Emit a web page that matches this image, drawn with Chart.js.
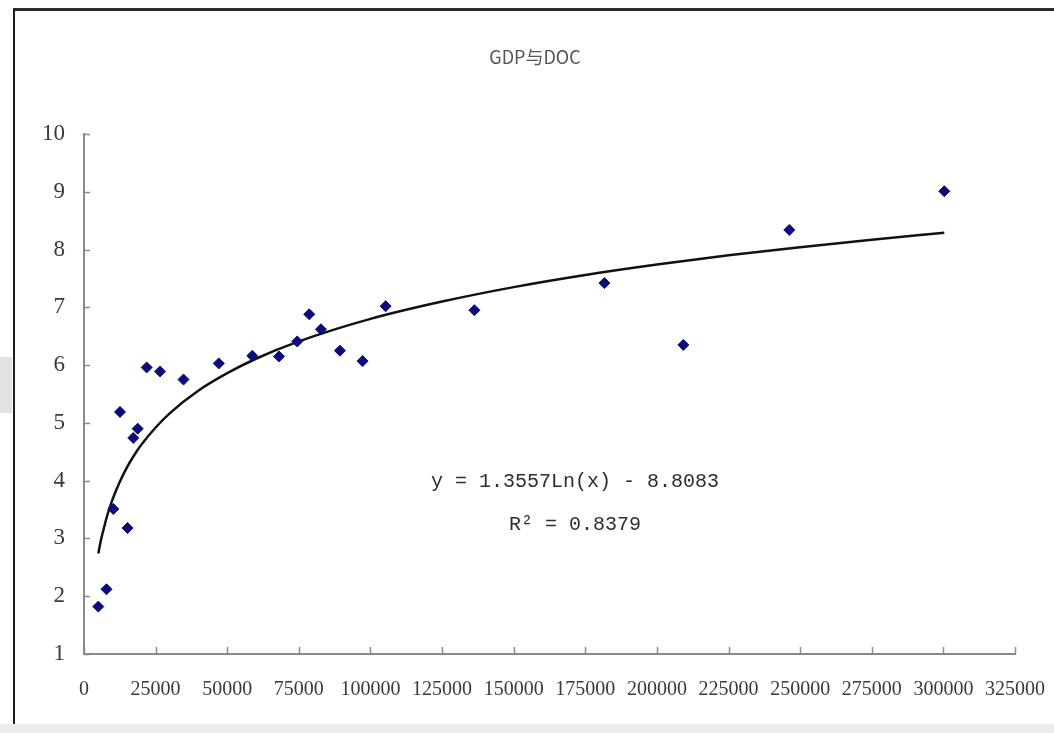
<!DOCTYPE html>
<html>
<head>
<meta charset="utf-8">
<script src="https://cdn.jsdelivr.net/npm/chart.js@4/dist/chart.umd.min.js"></script>
<style>
  body { margin: 0; background: #fff; }
  #wrap { position: relative; width: 1054px; height: 733px; overflow: hidden; }
  .frame { position: absolute; left: 13px; top: 8px; width: 1045px; height: 715px;
           border-top: 3px solid #2b2b2b; border-left: 2px solid #1e1e1e; background: #fff; }
  .strip { position: absolute; left: 0; top: 724px; width: 1054px; height: 9px; background: #ececec; }
  .patch { position: absolute; left: 0; top: 357px; width: 12px; height: 56px; background: #e2e2e2; }
  canvas { position: absolute; left: 0; top: 0; }
</style>
</head>
<body>
<div id="wrap">
  <div class="frame"></div>
  <div class="strip"></div>
  <div class="patch"></div>
  <canvas id="chart" width="1054" height="733"></canvas>
</div>
<script>
var TITLE = 'GDP与DOC';

// GDP (x) and DOC (y).
var gdp = [5000, 7850, 10230, 12570, 15180, 17200, 18740, 21880, 26530, 34730,
  47050, 58740, 68060, 74440, 78630, 82710, 89340, 97260, 105290,
  136280, 181660, 209220, 246210, 300310];
var doc = [1.82, 2.12, 3.51, 5.19, 3.18, 4.74, 4.90, 5.96, 5.89, 5.75,
  6.03, 6.16, 6.15, 6.41, 6.88, 6.62, 6.25, 6.07, 7.02,
  6.95, 7.42, 6.35, 8.34, 9.01];

// Logarithmic trend line.
var trendX = [5000, 6000, 7000, 8000, 10000, 12500, 15000, 17500, 20000, 25000,
  30000, 40000, 50000, 60000, 75000, 100000, 125000, 150000, 175000,
  200000, 225000, 250000, 275000, 300300];
var trendY = [2.74, 2.99, 3.19, 3.38, 3.68, 3.98, 4.23, 4.44, 4.62, 4.92,
  5.17, 5.56, 5.86, 6.11, 6.41, 6.80, 7.10, 7.35, 7.56,
  7.74, 7.90, 8.04, 8.17, 8.29];

var equationLines = ['y = 1.3557Ln(x) - 8.8083', 'R\u00b2 = 0.8379'];

var xTicks = [0, 325000, 25000];   // min, max, step
var yTicks = [1, 10, 1];

function toPoints(xs, ys) {
  var pts = [];
  for (var i = 0; i < xs.length; i++) {
    pts.push({x: xs[i], y: ys[i]});
  }
  return pts;
}

var AXIS_COLOR = '#8a8a8a';
var TEXT_COLOR = '#3a3a3a';

// Excel-style tick marks pointing into the plot.
var innerTicks = {
  id: 'innerTicks',
  afterDatasetsDraw: function(chart) {
    var ctx = chart.ctx;
    var xs = chart.scales.x, ys = chart.scales.y;
    var area = chart.chartArea;
    ctx.save();
    ctx.strokeStyle = AXIS_COLOR;
    ctx.lineWidth = 1.5;
    ctx.beginPath();
    xs.ticks.forEach(function(t) {
      var px = Math.round(xs.getPixelForValue(t.value)) + 0.5;
      ctx.moveTo(px, area.bottom);
      ctx.lineTo(px, area.bottom - 7);
    });
    ys.ticks.forEach(function(t) {
      var py = Math.round(ys.getPixelForValue(t.value)) + 0.5;
      ctx.moveTo(area.left, py);
      ctx.lineTo(area.left + 6, py);
    });
    ctx.stroke();
    ctx.restore();
  }
};

// Title sits a little right of the canvas centre, as in the source sheet.
var titleAndEquation = {
  id: 'titleAndEquation',
  afterDraw: function(chart) {
    var ctx = chart.ctx;
    ctx.save();
    ctx.textAlign = 'center';
    ctx.textBaseline = 'middle';
    ctx.font = '18px "Noto Sans CJK SC", sans-serif';
    ctx.fillStyle = '#555';
    ctx.fillText(TITLE, 535, 57);

    var px = chart.scales.x.getPixelForValue(171400);
    var yVals = [3.98, 3.24];
    ctx.font = '20px "Liberation Mono", monospace';
    ctx.fillStyle = '#2e2e2e';
    for (var i = 0; i < equationLines.length; i++) {
      ctx.fillText(equationLines[i], px, chart.scales.y.getPixelForValue(yVals[i]));
    }
    ctx.restore();
  }
};

document.addEventListener('DOMContentLoaded', function() {
  new Chart(document.getElementById('chart'), {
    type: 'scatter',
    data: {
      datasets: [
        {
          label: 'DOC',
          data: toPoints(gdp, doc),
          pointStyle: 'rectRot',
          pointRadius: 5.5,
          backgroundColor: '#0b0b7a',
          borderColor: '#0b0b7a',
          borderWidth: 1,
          order: 1,
        },
        {
          label: 'trend',
          type: 'line',
          data: toPoints(trendX, trendY),
          showLine: true,
          pointRadius: 0,
          borderColor: '#111',
          borderWidth: 2.5,
          cubicInterpolationMode: 'monotone',
          fill: false,
          order: 2,
        },
      ],
    },
    options: {
      responsive: false,
      animation: false,
      devicePixelRatio: 1,
      layout: {
        padding: {left: 20, right: 39, top: 134, bottom: 0},
      },
      plugins: {
        legend: {display: false},
        tooltip: {enabled: false},
        title: {display: false},
      },
      scales: {
        x: {
          type: 'linear',
          min: xTicks[0],
          max: xTicks[1],
          afterFit: function(scale) {
            scale.height = 79;
            scale.paddingLeft = 0;
            scale.paddingRight = 0;
          },
          ticks: {
            stepSize: xTicks[2],
            autoSkip: false,
            maxRotation: 0,
            padding: 24,
            color: TEXT_COLOR,
            font: {family: '"Liberation Serif", serif', size: 20},
            callback: function(v) { return String(v); },
          },
          grid: {display: true, drawOnChartArea: false, drawTicks: false},
          border: {display: true, color: AXIS_COLOR, width: 2},
        },
        y: {
          type: 'linear',
          min: yTicks[0],
          max: yTicks[1],
          afterFit: function(scale) {
            scale.width = 64;
            scale.paddingTop = 0;
            scale.paddingBottom = 0;
          },
          ticks: {
            stepSize: yTicks[2],
            padding: 19,
            color: TEXT_COLOR,
            font: {family: '"Liberation Serif", serif', size: 23},
          },
          grid: {display: true, drawOnChartArea: false, drawTicks: false},
          border: {display: true, color: AXIS_COLOR, width: 2},
        },
      },
    },
    plugins: [innerTicks, titleAndEquation],
  });
});
</script>
</body>
</html>
